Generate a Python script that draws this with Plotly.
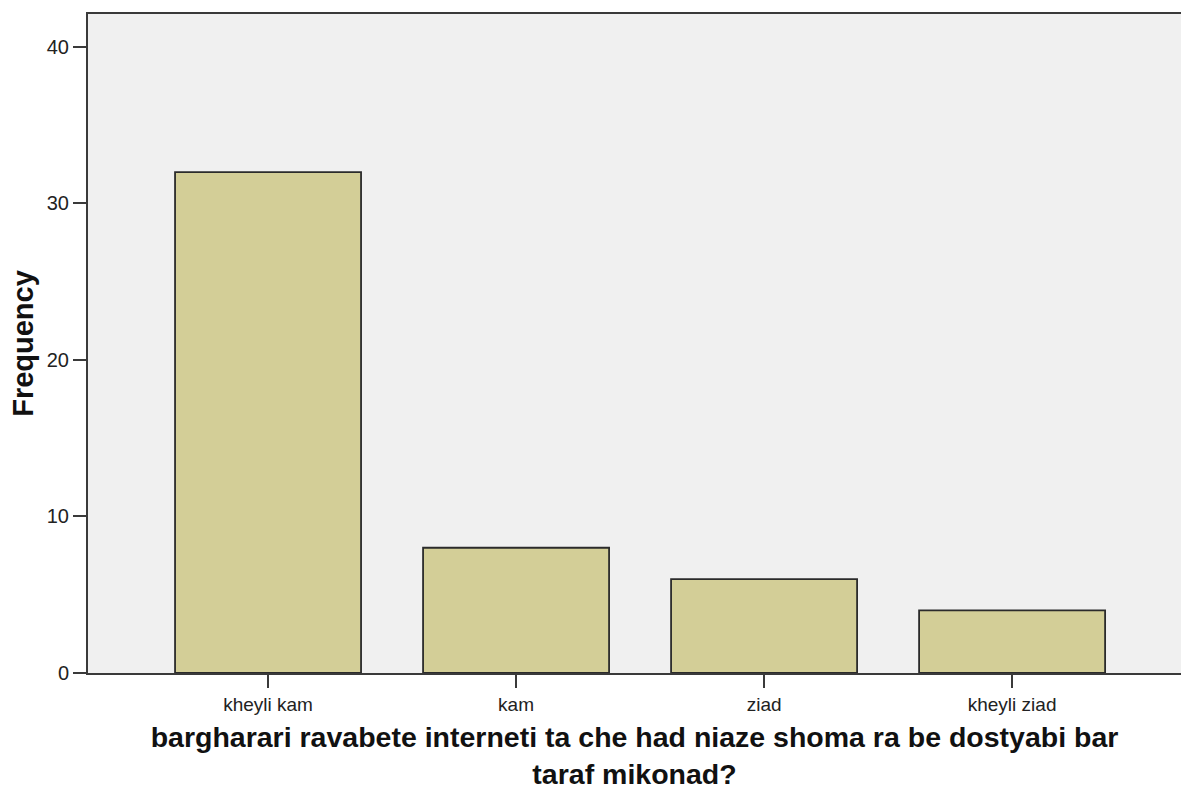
import plotly.graph_objects as go

categories = ["kheyli kam", "kam", "ziad", "kheyli ziad"]
frequency = [32, 8, 6, 4]
y_ticks = [0, 10, 20, 30, 40]

fig = go.Figure()
fig.add_trace(go.Bar(
    x=categories, y=frequency, width=0.75,
    marker=dict(color="#d3ce97", line=dict(color="#2b2b2b", width=1.8)),
))

fig.update_layout(
    width=1181, height=790,
    margin=dict(l=88, r=0, t=14, b=117, pad=0, autoexpand=False),
    paper_bgcolor="white", plot_bgcolor="#f0f0f0",
    showlegend=False,
    font=dict(family="Liberation Sans, Arial, sans-serif", color="#222222"),
    xaxis=dict(
        range=[-0.726, 3.681], showgrid=False, zeroline=False, automargin=False,
        showline=True, linecolor="#3a3a3a", linewidth=2, mirror=True,
        ticks="outside", ticklen=13, tickwidth=2, tickcolor="#3a3a3a",
        tickfont=dict(size=19),
        title=dict(
            text="<b>bargharari ravabete interneti ta che had niaze shoma ra be dostyabi bar<br>taraf mikonad?</b>",
            font=dict(family="Liberation Sans, Arial, sans-serif", size=28.5, color="#111111"),
            standoff=25,
        ),
    ),
    yaxis=dict(
        range=[0, 42.1], showgrid=False, zeroline=False, automargin=False,
        showline=True, linecolor="#3a3a3a", linewidth=2,
        ticks="outside", ticklen=13, tickwidth=2, tickcolor="#3a3a3a",
        tickvals=y_ticks, tickfont=dict(size=20),
        title=dict(text="<b>Frequency</b>",
                   font=dict(family="Liberation Sans, Arial, sans-serif", size=29, color="#111111"),
                   standoff=5),
    ),
)

fig.write_html(
    "out.html",
    config={"displayModeBar": False},
    post_script="document.body.style.margin='0';document.body.style.overflow='hidden';",
)
